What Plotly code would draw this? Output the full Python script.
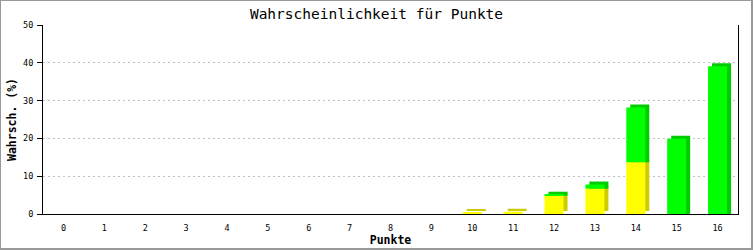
import plotly.graph_objects as go

punkte = list(range(17))
tick_labels = [str(p) for p in punkte]
gelb = [0, 0, 0, 0, 0, 0, 0, 0, 0, 0, 0.35, 0.6, 4.85, 6.7, 13.7, 0, 0]
gruen = [0, 0, 0, 0, 0, 0, 0, 0, 0, 0, 0, 0, 0.25, 1.1, 14.5, 19.9, 39.1]

# style / geometry
W, H = 753, 250
ML, MR, MT, MB = 43, 15, 25, 36
PW, PH = W - ML - MR, H - MT - MB
bar_w = 0.465
dx = 4 / (PW / 17.0)          # depth offset in category units (4px)
dy = 3 / (PH / 50.0)          # depth offset in value units (3px)

YEL, YEL_D = "#ffff00", "#cccc00"
GRN, GRN_D = "#00ff00", "#00cc00"

shadow_y_base = [dy] * len(punkte)
shadow_g_base = gelb
shadow_g_h = [g + dy if g > 0 else 0 for g in gruen]

fig = go.Figure()
common = dict(width=bar_w, marker_line_width=0, hoverinfo="skip", showlegend=False)
fig.add_bar(x=punkte, y=gelb, base=shadow_y_base, offset=-bar_w / 2 + dx,
            marker_color=YEL_D, **common)
fig.add_bar(x=punkte, y=shadow_g_h, base=shadow_g_base, offset=-bar_w / 2 + dx,
            marker_color=GRN_D, **common)
fig.add_bar(x=punkte, y=gelb, base=[0] * len(punkte), offset=-bar_w / 2,
            marker_color=YEL, **common)
fig.add_bar(x=punkte, y=gruen, base=gelb, offset=-bar_w / 2,
            marker_color=GRN, **common)

mono = "DejaVu Sans Mono, Liberation Mono, monospace"

def px_x(p):
    return (p - ML) / PW

def px_y(p):
    return (MT + PH - p) / PH

fig.update_layout(
    width=W, height=H, autosize=False,
    margin=dict(l=ML, r=MR, t=MT, b=MB, pad=0),
    paper_bgcolor="white", plot_bgcolor="white",
    barmode="overlay",
    title=dict(text="Wahrscheinlichkeit für Punkte", x=0.5, xref="container",
               y=1 - 14 / H, yref="container", xanchor="center", yanchor="middle",
               font=dict(family=mono, size=14.5, color="black")),
    xaxis=dict(range=[-0.5, 16.5], tickmode="array", tickvals=punkte, ticktext=tick_labels,
               showgrid=False, zeroline=False, showline=True, linecolor="black", linewidth=1,
               ticks="", ticklabelstandoff=6, automargin=False,
               tickfont=dict(family=mono, size=8.5, color="black"),
               title=dict(text="<b>Punkte</b>", standoff=2,
                          font=dict(family=mono, size=11.5, color="black"))),
    yaxis=dict(range=[0, 50], tickmode="array", tickvals=[0, 10, 20, 30, 40, 50],
               showgrid=True, gridcolor="#c0c0c0", griddash="2px,3px", gridwidth=1,
               zeroline=False, showline=True, mirror=True, linecolor="black", linewidth=1,
               ticks="outside", ticklen=5, tickcolor="black", ticklabelstandoff=2,
               automargin=False,
               tickfont=dict(family=mono, size=8.5, color="black"),
               title=dict(text="<b>Wahrsch. (%)</b>", standoff=4,
                          font=dict(family=mono, size=11.5, color="black"))),
    shapes=[dict(type="rect", xref="paper", yref="paper",
                 x0=px_x(0), x1=px_x(752), y0=px_y(249), y1=px_y(0),
                 line=dict(color="#999999", width=2), layer="above")],
)

fig.write_html("out.html")
